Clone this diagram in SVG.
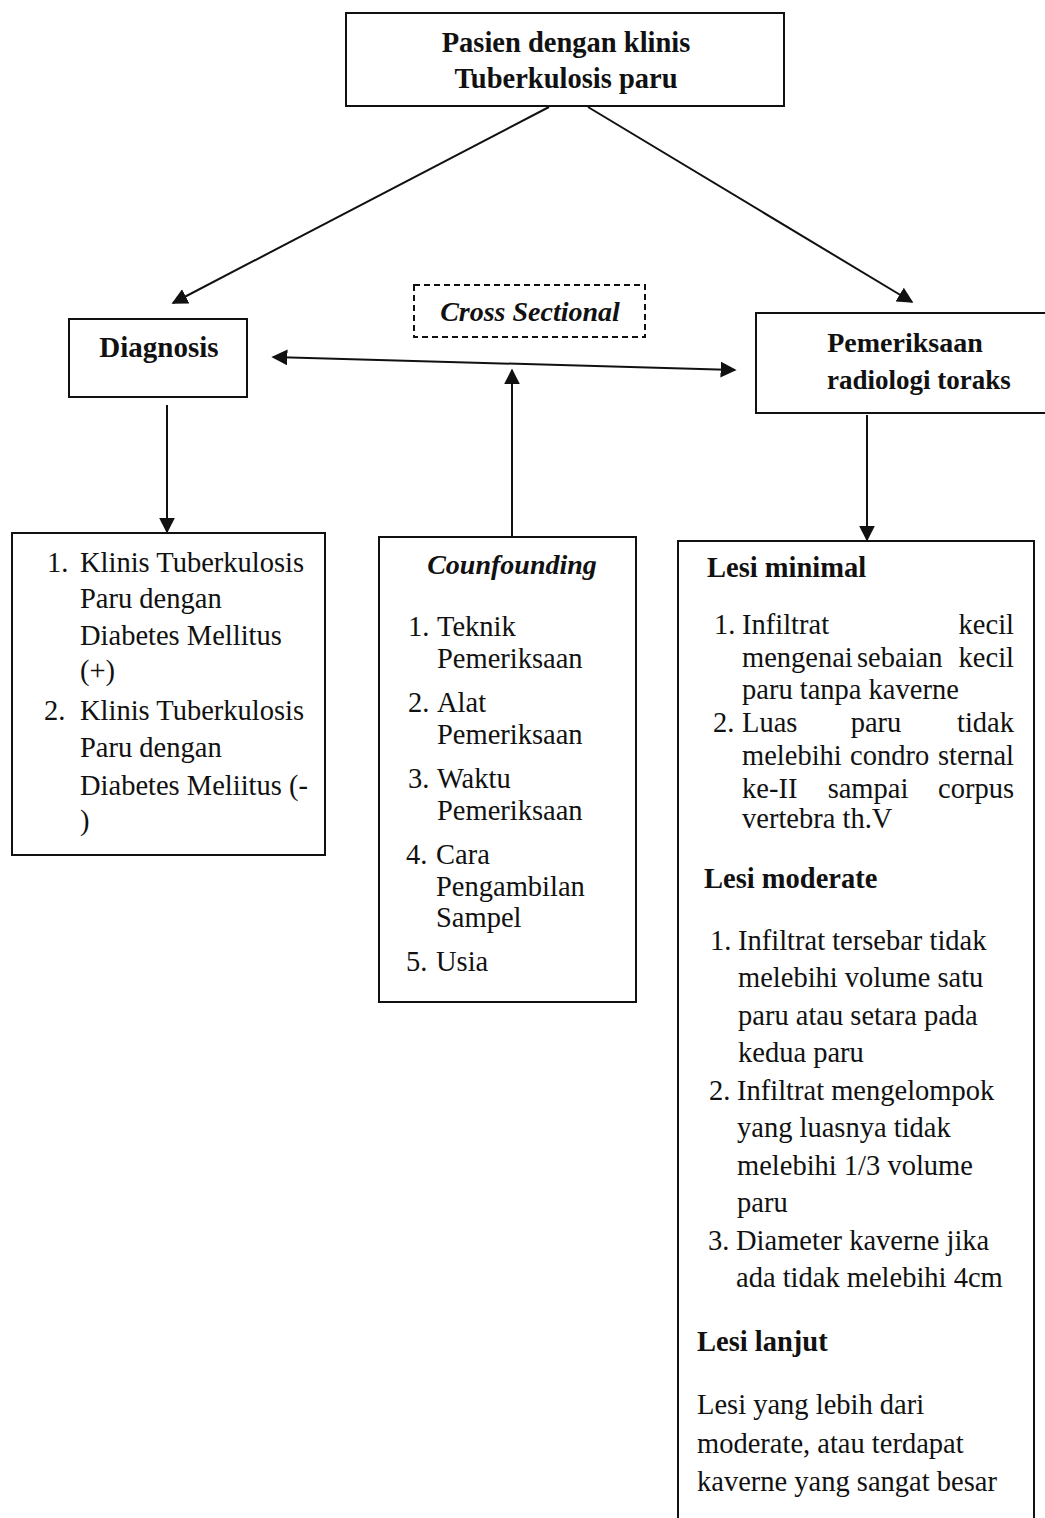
<svg xmlns="http://www.w3.org/2000/svg" width="1045" height="1518" viewBox="0 0 1045 1518">
<style>
.box{fill:#fff;stroke:#111;stroke-width:2}
.dash{fill:#fff;stroke:#111;stroke-width:2;stroke-dasharray:6,4}
.ln{stroke:#111;stroke-width:2;fill:none}
text{font-family:"Liberation Serif","Times New Roman",serif;fill:#111}
.b{font-weight:bold}
.bi{font-weight:bold;font-style:italic}
.t{font-size:28.5px}
.h{font-size:28.5px;font-weight:bold}
</style>
<defs>
<marker id="ah2" viewBox="0 0 10 10" refX="9" refY="5" markerWidth="16" markerHeight="16" markerUnits="userSpaceOnUse" orient="auto-start-reverse">
<path d="M0,0 L10,5 L0,10 z" fill="#111"/>
</marker>
</defs>
<rect width="1045" height="1518" fill="#fff"/>
<g id="connectors">
<line class="ln" x1="549" y1="107" x2="173" y2="303" marker-end="url(#ah2)"/>
<line class="ln" x1="588" y1="107" x2="912" y2="302" marker-end="url(#ah2)"/>
<line class="ln" x1="273" y1="357" x2="735" y2="370" marker-start="url(#ah2)" marker-end="url(#ah2)"/>
<line class="ln" x1="512" y1="537" x2="512" y2="370" marker-end="url(#ah2)"/>
<line class="ln" x1="167" y1="405" x2="167" y2="532" marker-end="url(#ah2)"/>
<line class="ln" x1="867" y1="415" x2="867" y2="540" marker-end="url(#ah2)"/>
</g>
<g id="node-pasien">
<rect class="box" x="346" y="13" width="438" height="93"/>
<text class="b" font-size="28.5" x="566" y="52" text-anchor="middle">Pasien dengan klinis</text>
<text class="b" font-size="28.5" x="566" y="88" text-anchor="middle">Tuberkulosis paru</text>
</g>
<g id="node-diagnosis">
<rect class="box" x="69" y="319" width="178" height="78"/>
<text class="b" font-size="29" x="159" y="357" text-anchor="middle">Diagnosis</text>
</g>
<g id="node-cross">
<rect class="dash" x="414" y="285" width="231" height="52"/>
<text class="bi" font-size="28" x="530" y="321" text-anchor="middle">Cross Sectional</text>
</g>
<g id="node-radiologi">
<rect class="box" x="756" y="313" width="300" height="100"/>
<text class="b" font-size="28" x="905" y="352" text-anchor="middle">Pemeriksaan</text>
<text class="b" font-size="27" x="919" y="389" text-anchor="middle">radiologi toraks</text>
</g>
<g id="node-dm">
<rect class="box" x="12" y="533" width="313" height="322"/>
<g class="t">
<text x="47" y="572">1.</text><text x="80" y="572">Klinis Tuberkulosis</text>
<text x="80" y="608">Paru dengan</text>
<text x="80" y="645">Diabetes Mellitus</text>
<text x="80" y="680">(+)</text>
<text x="44" y="720">2.</text><text x="80" y="720">Klinis Tuberkulosis</text>
<text x="80" y="757">Paru dengan</text>
<text x="80" y="795">Diabetes Meliitus (-</text>
<text x="80" y="830">)</text>
</g>
</g>
<g id="node-confounding">
<rect class="box" x="379" y="537" width="257" height="465"/>
<text class="bi" font-size="28" x="512" y="574" text-anchor="middle">Counfounding</text>
<g class="t">
<text x="408" y="636">1.</text><text x="437" y="636">Teknik</text>
<text x="437" y="668">Pemeriksaan</text>
<text x="408" y="712">2.</text><text x="437" y="712">Alat</text>
<text x="437" y="744">Pemeriksaan</text>
<text x="408" y="788">3.</text><text x="437" y="788">Waktu</text>
<text x="437" y="820">Pemeriksaan</text>
<text x="406" y="864">4.</text><text x="436" y="864">Cara</text>
<text x="436" y="896">Pengambilan</text>
<text x="436" y="927">Sampel</text>
<text x="406" y="971">5.</text><text x="436" y="971">Usia</text>
</g>
</g>
<g id="node-lesi">
<path class="ln" d="M678,1520 V541 H1034 V1520"/>
<text class="h" x="707" y="577">Lesi minimal</text>
<g class="t">
<text x="714" y="634">1.</text><text x="742" y="634">Infiltrat</text><text x="1014" y="634" text-anchor="end">kecil</text>
<text x="742" y="667">mengenai</text><text x="857" y="667">sebaian</text><text x="1014" y="667" text-anchor="end">kecil</text>
<text x="742" y="699">paru tanpa kaverne</text>
<text x="713" y="732">2.</text><text x="742" y="732">Luas</text><text x="876" y="732" text-anchor="middle">paru</text><text x="1014" y="732" text-anchor="end">tidak</text>
<text x="742" y="765">melebihi</text><text x="850" y="765">condro</text><text x="1014" y="765" text-anchor="end">sternal</text>
<text x="742" y="798">ke-II</text><text x="868" y="798" text-anchor="middle">sampai</text><text x="1014" y="798" text-anchor="end">corpus</text>
<text x="742" y="828">vertebra th.V</text>
</g>
<text class="h" x="704" y="888">Lesi moderate</text>
<g class="t">
<text x="710" y="950">1.</text><text x="738" y="950">Infiltrat tersebar tidak</text>
<text x="738" y="987">melebihi volume satu</text>
<text x="738" y="1025">paru atau setara pada</text>
<text x="738" y="1062">kedua paru</text>
<text x="709" y="1100">2.</text><text x="737" y="1100">Infiltrat mengelompok</text>
<text x="737" y="1137">yang luasnya tidak</text>
<text x="737" y="1175">melebihi 1/3 volume</text>
<text x="737" y="1212">paru</text>
<text x="708" y="1250">3.</text><text x="736" y="1250">Diameter kaverne jika</text>
<text x="736" y="1287">ada tidak melebihi 4cm</text>
</g>
<text class="h" x="697" y="1351">Lesi lanjut</text>
<g class="t">
<text x="697" y="1414">Lesi yang lebih dari</text>
<text x="697" y="1453">moderate, atau terdapat</text>
<text x="697" y="1491">kaverne yang sangat besar</text>
</g>
</g>
</svg>
